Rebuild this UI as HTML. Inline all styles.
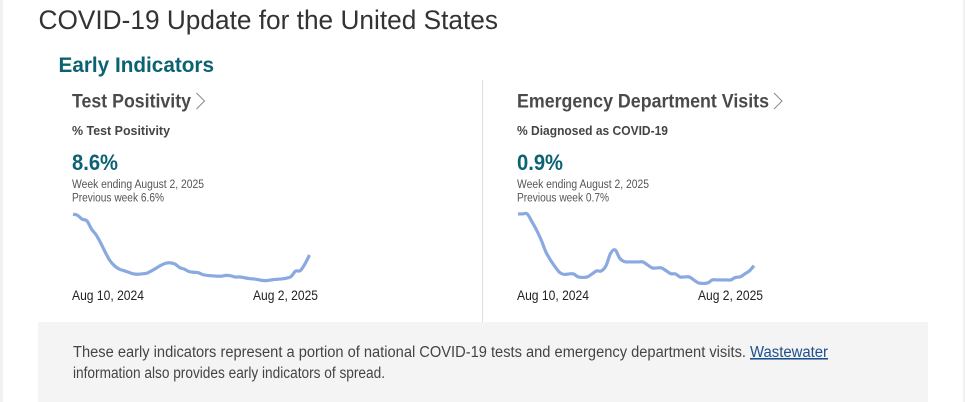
<!DOCTYPE html>
<html lang="en">
<head>
<meta charset="utf-8">
<title>COVID-19 Update for the United States</title>
<style>
html,body{margin:0;padding:0;width:965px;height:402px;overflow:hidden;background:#fff}
svg{display:block}
text{font-family:"Liberation Sans",sans-serif}
.b{font-weight:700}
.teal{fill:#0b6272}
.head{fill:#4a4a4a;font-size:19px;font-weight:700}
.sub{fill:#444;font-size:12.5px;font-weight:700}
.big{fill:#0b6272;font-size:22px;font-weight:700}
.small{fill:#555;font-size:11.5px}
.tick{fill:#222;font-size:14px}
.note{fill:#444;font-size:15.5px}
</style>
</head>
<body>
<svg id="root" width="965" height="402" viewBox="0 0 965 402" xmlns="http://www.w3.org/2000/svg">
  <rect x="0" y="0" width="3" height="402" fill="#f1f1f1"/>
  <rect x="963" y="0" width="2" height="402" fill="#f1f1f1"/>
  <text x="38.5" y="29" font-size="26.5" fill="#333" textLength="459.5" lengthAdjust="spacingAndGlyphs">COVID-19 Update for the United States</text>
  <text x="58.5" y="72" font-size="21" class="b teal" textLength="155.5" lengthAdjust="spacingAndGlyphs">Early Indicators</text>

  <line x1="482.5" y1="80" x2="482.5" y2="322" stroke="#dedede"/>

  <g>
    <text x="72" y="107.5" class="head" textLength="119" lengthAdjust="spacingAndGlyphs">Test Positivity</text>
    <path d="M196.5 93 L204.5 101 L196.5 109" fill="none" stroke="#888" stroke-width="1"/>
    <text x="72" y="135" class="sub" textLength="98" lengthAdjust="spacingAndGlyphs">% Test Positivity</text>
    <text x="72" y="170" class="big" textLength="46" lengthAdjust="spacingAndGlyphs">8.6%</text>
    <text x="72" y="188" class="small" textLength="132" lengthAdjust="spacingAndGlyphs">Week ending August 2, 2025</text>
    <text x="72" y="201.5" class="small" textLength="92" lengthAdjust="spacingAndGlyphs">Previous week 6.6%</text>
    <g id="chart-left"></g>
  </g>

  <g>
    <text x="517" y="107.5" class="head" textLength="252" lengthAdjust="spacingAndGlyphs">Emergency Department Visits</text>
    <path d="M774 93 L782 101 L774 109" fill="none" stroke="#888" stroke-width="1"/>
    <text x="517" y="135" class="sub" textLength="151" lengthAdjust="spacingAndGlyphs">% Diagnosed as COVID-19</text>
    <text x="517" y="170" class="big" textLength="46" lengthAdjust="spacingAndGlyphs">0.9%</text>
    <text x="517" y="188" class="small" textLength="132" lengthAdjust="spacingAndGlyphs">Week ending August 2, 2025</text>
    <text x="517" y="201.5" class="small" textLength="92" lengthAdjust="spacingAndGlyphs">Previous week 0.7%</text>
    <g id="chart-right"></g>
  </g>

  <g>
    <rect x="38" y="322" width="890" height="80" fill="#f4f4f4"/>
    <text x="73" y="357" class="note" textLength="673" lengthAdjust="spacingAndGlyphs">These early indicators represent a portion of national COVID-19 tests and emergency department visits.</text>
    <text x="750" y="357" font-size="15.5" fill="#1c4f8c" text-decoration="underline" textLength="78" lengthAdjust="spacingAndGlyphs">Wastewater</text>
    <text x="73" y="378" class="note" textLength="312" lengthAdjust="spacingAndGlyphs">information also provides early indicators of spread.</text>
  </g>
</svg>

<script>
const tickLabels = ["Aug 10, 2024", "Aug 2, 2025"];
const testPositivity = [13.8,13.65,13.15,12.95,11.9,11.15,10.1,8.9,7.85,7.2,6.8,6.6,6.4,6.2,6.15,6.2,6.3,6.6,6.95,7.3,7.55,7.6,7.45,7.0,6.8,6.5,6.4,6.35,6.1,6.0,5.95,5.9,5.9,6.0,5.95,5.8,5.8,5.7,5.6,5.55,5.45,5.35,5.35,5.45,5.5,5.55,5.65,5.85,6.55,6.6,7.45,8.6];
const edVisits = [2.97,2.97,2.97,2.66,2.33,1.93,1.46,1.13,0.86,0.63,0.55,0.57,0.57,0.45,0.43,0.45,0.57,0.69,0.69,0.89,1.39,1.53,1.19,1.06,1.05,1.05,1.05,1.05,0.93,0.81,0.81,0.81,0.7,0.58,0.57,0.45,0.45,0.45,0.33,0.21,0.19,0.21,0.33,0.33,0.33,0.33,0.33,0.43,0.45,0.57,0.69,0.9];

const NS = 'http://www.w3.org/2000/svg';

function makeX(x0, x1, count) {
  return function (i) { return x0 + (x1 - x0) * i / (count - 1); };
}
function makeY(refValue, refY, pxPerUnit) {
  return function (v) { return refY - (v - refValue) * pxPerUnit; };
}
function smoothPath(points) {
  let d = 'M' + points[0][0].toFixed(2) + ' ' + points[0][1].toFixed(2);
  for (let i = 0; i < points.length - 1; i++) {
    const p0 = points[Math.max(i - 1, 0)];
    const p1 = points[i];
    const p2 = points[i + 1];
    const p3 = points[Math.min(i + 2, points.length - 1)];
    const c1x = p1[0] + (p2[0] - p0[0]) / 6;
    const c1y = p1[1] + (p2[1] - p0[1]) / 6;
    const c2x = p2[0] - (p3[0] - p1[0]) / 6;
    const c2y = p2[1] - (p3[1] - p1[1]) / 6;
    d += 'C' + c1x.toFixed(2) + ' ' + c1y.toFixed(2) + ' ' + c2x.toFixed(2) + ' ' + c2y.toFixed(2) + ' ' + p2[0].toFixed(2) + ' ' + p2[1].toFixed(2);
  }
  return d;
}
function drawChart(groupId, values, xScale, yScale, tickX, tickW) {
  const g = document.getElementById(groupId);
  const line = document.createElementNS(NS, 'path');
  
  
  line.setAttribute('d', smoothPath(values.map(function (v, i) { return [xScale(i), yScale(v)]; })));
  line.setAttribute('fill', 'none');
  line.setAttribute('stroke', '#8aa9e0');
  line.setAttribute('stroke-width', '3.2');
  line.setAttribute('stroke-linejoin', 'round');
  g.appendChild(line);
  tickLabels.forEach(function (label, i) {
    const t = document.createElementNS(NS, 'text');
    
    
    t.setAttribute('class', 'tick');
    t.setAttribute('x', tickX[i]);
    t.setAttribute('y', 300);
    t.setAttribute('textLength', tickW[i]);
    t.setAttribute('lengthAdjust', 'spacingAndGlyphs');
    t.textContent = label;
    g.appendChild(t);
  });
}

drawChart('chart-left', testPositivity, makeX(73, 309.5, testPositivity.length), makeY(8.6, 255, 7.85), [72, 253], [72, 65]);
drawChart('chart-right', edVisits, makeX(518, 754, edVisits.length), makeY(0.9, 265.67, 25), [517, 698], [72, 65]);
</script>
</body>
</html>
